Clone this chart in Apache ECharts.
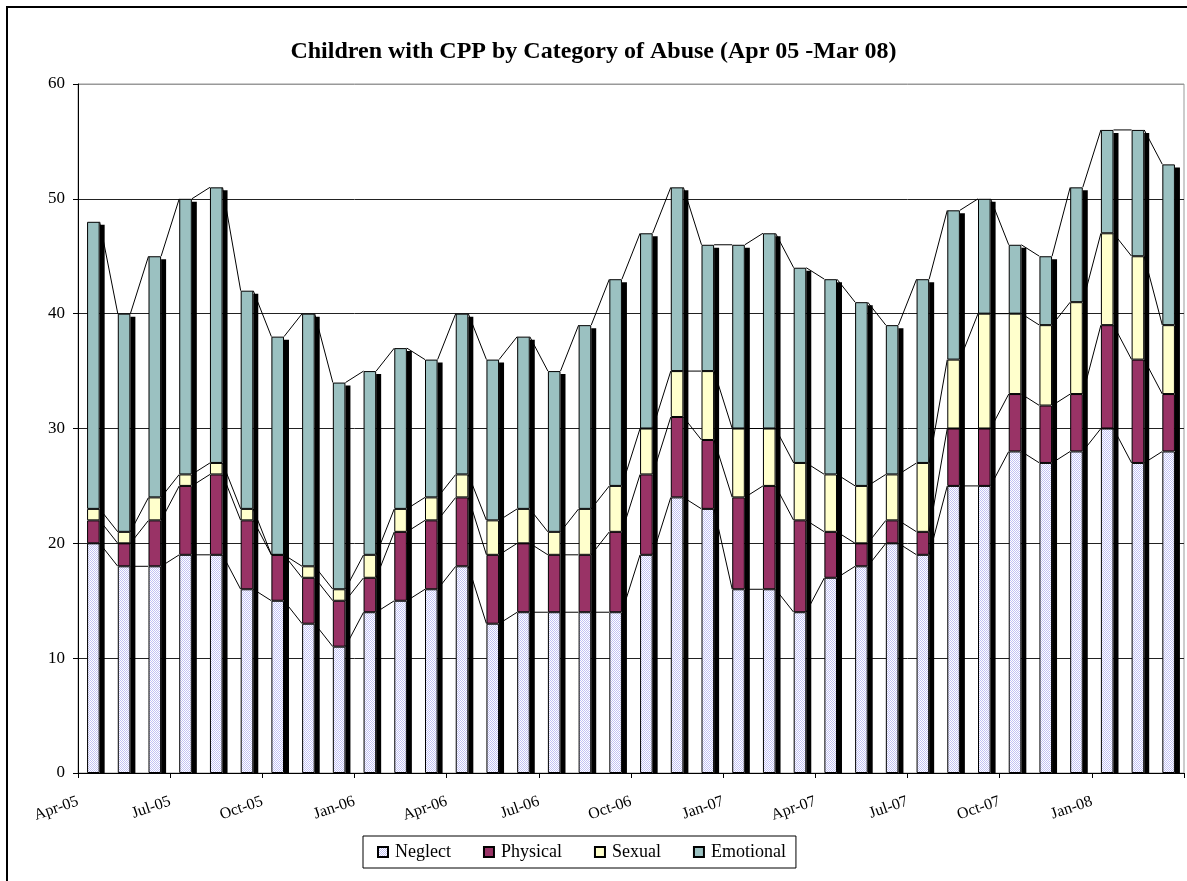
<!DOCTYPE html>
<html><head><meta charset="utf-8">
<script src="https://cdn.jsdelivr.net/npm/echarts@6/dist/echarts.min.js"></script>
<style>html,body{margin:0;padding:0;background:#fff}#c{width:1187px;height:881px}</style>
</head><body><div id="c"></div>
<script>
const months = ['Apr-05','May-05','Jun-05','Jul-05','Aug-05','Sep-05','Oct-05','Nov-05','Dec-05','Jan-06','Feb-06','Mar-06',
  'Apr-06','May-06','Jun-06','Jul-06','Aug-06','Sep-06','Oct-06','Nov-06','Dec-06','Jan-07','Feb-07','Mar-07',
  'Apr-07','May-07','Jun-07','Jul-07','Aug-07','Sep-07','Oct-07','Nov-07','Dec-07','Jan-08','Feb-08','Mar-08'];
const tickLabels = ['Apr-05','Jul-05','Oct-05','Jan-06','Apr-06','Jul-06','Oct-06','Jan-07','Apr-07','Jul-07','Oct-07','Jan-08',''];
const neglect   = [20,18,18,19,19,16,15,13,11,14,15,16,18,13,14,14,14,14,19,24,23,16,16,14,17,18,20,19,25,25,28,27,28,30,27,28];
const physical  = [2,2,4,6,7,6,4,4,4,3,6,6,6,6,6,5,5,7,7,7,6,8,9,8,4,2,2,2,5,5,5,5,5,9,9,5];
const sexual    = [1,1,2,1,1,1,0,1,1,2,2,2,2,3,3,2,4,4,4,4,6,6,5,5,5,5,4,6,6,10,7,7,8,8,9,6];
const emotional = [25,19,21,24,24,19,19,22,18,16,14,12,14,14,15,14,16,18,17,16,11,16,17,17,17,16,13,16,13,10,6,6,10,9,11,14];
const seriesNames = ['Neglect','Physical','Sexual','Emotional'];

const FONT = 'Liberation Serif';
const BAR_W = 0.41;

function makePattern(){
  const c = document.createElement('canvas'); c.width = 4; c.height = 4;
  const g = c.getContext('2d');
  g.fillStyle = '#ffffff'; g.fillRect(0,0,4,4);
  g.fillStyle = '#c2c2f4';
  for (let k = 0; k < 4; k++) { g.fillRect(k, k, 1, 1); g.fillRect((k + 2) % 4, k, 1, 1); }
  return c;
}
const colors = [{image: makePattern(), repeat: 'repeat'}, '#993366', '#FFFFCC', '#9BC1C1'];
const values = [neglect, physical, sexual, emotional];

// cumulative levels built from the series arrays
const levels = months.map((m, i) => {
  let s = 0; return values.map(arr => (s += arr[i]));
});
const lineData = [];
for (let i = 0; i < months.length - 1; i++) {
  lineData.push([i].concat(levels[i], levels[i + 1]));
}
const shadowData = months.map((m, i) => [i, levels[i][3]]);

const chart = echarts.init(document.getElementById('c'), null, {renderer: 'canvas'});

const barSeries = seriesNames.map((name, k) => ({
  name, type: 'bar', stack: 'all', xAxisIndex: 0, yAxisIndex: 0,
  barWidth: (BAR_W * 100) + '%',
  data: values[k],
  itemStyle: {color: colors[k], borderColor: '#000', borderWidth: 1},
  emphasis: {disabled: true}, z: 3
}));

const option = {
  animation: false,
  backgroundColor: '#fff',
  textStyle: {fontFamily: FONT},
  title: {
    text: 'Children with CPP by Category of Abuse (Apr 05 -Mar 08)',
    left: 'center', top: 35,
    textStyle: {fontFamily: FONT, fontWeight: 'bold', fontSize: 24, color: '#000'}
  },
  legend: {
    data: seriesNames,
    left: 363, top: 836,
    itemWidth: 10, itemHeight: 10, itemGap: 32,
    padding: [7, 10, 7, 14],
    borderColor: '#000', borderWidth: 1,
    textStyle: {fontFamily: FONT, fontSize: 18, color: '#000', padding: [0, 0, 0, 2]},
    icon: 'rect'
  },
  grid: {left: 78, right: 3, top: 84, bottom: 108, show: true, borderColor: '#999', borderWidth: 1, containLabel: false},
  xAxis: [{
    type: 'category', data: months, position: 'bottom',
    axisLine: {show: true, lineStyle: {color: '#000', width: 1}},
    axisTick: {show: false}, axisLabel: {show: false}, splitLine: {show: false}
  }, {
    type: 'value', min: 0, max: 36, interval: 3, position: 'bottom',
    axisLine: {show: false},
    axisTick: {show: true, length: 5, inside: false, lineStyle: {color: '#000'}},
    axisLabel: {
      rotate: 19, margin: 28, fontFamily: FONT, fontSize: 16, color: '#000',
      formatter: v => tickLabels[Math.round(v / 3)] || ''
    },
    splitLine: {show: false}
  }],
  yAxis: {
    type: 'value', min: 0, max: 60, interval: 10,
    axisLine: {show: true, lineStyle: {color: '#000'}},
    axisTick: {show: true, length: 5, inside: false, lineStyle: {color: '#000'}},
    axisLabel: {margin: 13, fontFamily: FONT, fontSize: 17, color: '#000'},
    splitLine: {show: true, lineStyle: {color: ['#000','#222','#222','#222','#222','#222','#999'], width: 1}}
  },
  graphic: [{
    type: 'rect', shape: {x: 7, y: 7, width: 1200, height: 900},
    style: {fill: 'none', stroke: '#000', lineWidth: 2}, silent: true, z: 100
  }],
  series: barSeries.concat([{
    type: 'custom', name: 'serieslines', xAxisIndex: 0, yAxisIndex: 0,
    data: lineData, z: 1, silent: true,
    encode: {x: 0, y: [1,2,3,4,5,6,7,8]},
    renderItem: (params, api) => {
      const i = api.value(0);
      const bw = api.size([1, 0])[0] * BAR_W;
      const children = [];
      for (let k = 0; k < 4; k++) {
        const p1 = api.coord([i, api.value(1 + k)]);
        const p2 = api.coord([i + 1, api.value(5 + k)]);
        children.push({type: 'line', shape: {x1: p1[0] + bw / 2, y1: p1[1], x2: p2[0] - bw / 2, y2: p2[1]},
          style: {stroke: '#000', lineWidth: 1}});
      }
      return {type: 'group', children};
    }
  }, {
    type: 'custom', name: 'shadow', xAxisIndex: 0, yAxisIndex: 0,
    data: shadowData, z: 4, silent: true,
    encode: {x: 0, y: 1},
    renderItem: (params, api) => {
      const i = api.value(0);
      const bw = api.size([1, 0])[0] * BAR_W;
      const top = api.coord([i, api.value(1)]);
      const base = api.coord([i, 0]);
      return {type: 'rect', shape: {x: top[0] + bw / 2, y: top[1] + 3, width: 5, height: base[1] - top[1] - 3},
        style: {fill: '#000'}};
    }
  }])
};
chart.setOption(option);
</script>
</body></html>
